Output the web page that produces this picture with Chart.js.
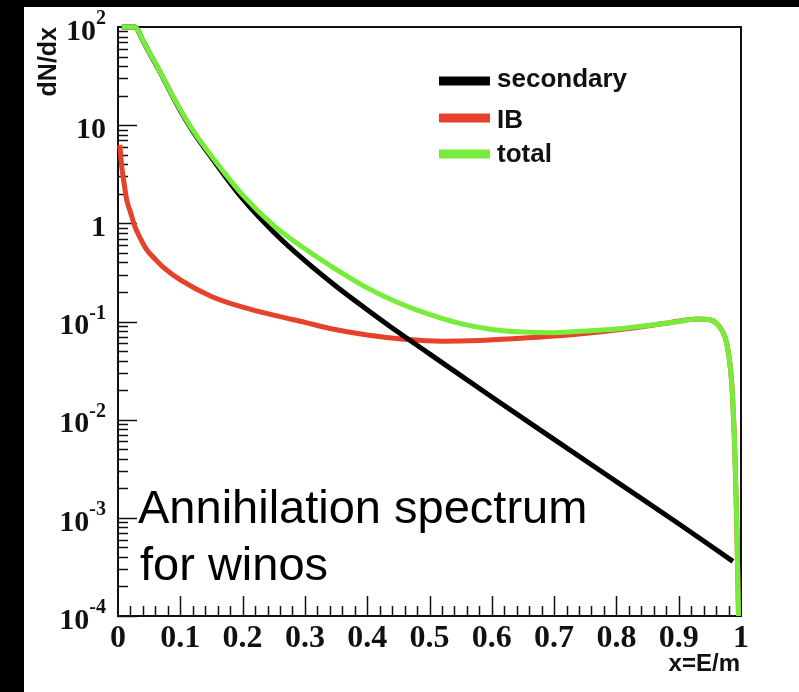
<!DOCTYPE html>
<html>
<head>
<meta charset="utf-8">
<script src="https://cdn.jsdelivr.net/npm/chart.js@4.4.0/dist/chart.umd.min.js"></script>
<style>
  html, body { margin: 0; padding: 0; background: #000; }
  #box { position: absolute; left: 24px; top: 7px; width: 775px; height: 685px; background: #fff; }
  canvas { display: block; }
</style>
</head>
<body>
<div id="box"><canvas id="spectrum" width="775" height="685"></canvas></div>
<script>
(function () {
  "use strict";

  // values (x = E/m, y = dN/dx)
  const xSecondary = [0.006, 0.027, 0.04, 0.051, 0.065, 0.079, 0.1, 0.12, 0.15, 0.2, 0.25, 0.3, 0.35, 0.4, 0.45, 0.5, 0.6, 0.7, 0.8, 0.9, 0.987];
  const ySecondary = [100, 100, 72.4, 53.7, 37.2, 25.1, 14.1, 8.71, 4.68, 1.78, 0.813, 0.417, 0.229, 0.132, 0.0776, 0.0468, 0.017, 0.0063, 0.00234, 0.00087, 0.00036];

  const xIB = [0.003, 0.006, 0.01, 0.014, 0.02, 0.027, 0.035, 0.046, 0.06, 0.072, 0.1, 0.15, 0.2, 0.26, 0.3, 0.34, 0.4, 0.46, 0.52, 0.58, 0.64, 0.7, 0.76, 0.82, 0.88, 0.93, 0.95, 0.96, 0.97, 0.977, 0.985, 0.99, 0.993, 0.996];
  const yIB = [6.3, 3.8, 2.5, 1.73, 1.3, 0.93, 0.72, 0.54, 0.43, 0.36, 0.265, 0.18, 0.14, 0.112, 0.098, 0.085, 0.073, 0.066, 0.063, 0.064, 0.067, 0.071, 0.077, 0.085, 0.096, 0.106, 0.104, 0.097, 0.08, 0.06, 0.024, 0.005, 0.001, 0.0001];

  const xTotal = [0.006, 0.027, 0.04, 0.051, 0.065, 0.079, 0.1, 0.12, 0.15, 0.2, 0.25, 0.3, 0.35, 0.4, 0.45, 0.5, 0.55, 0.6, 0.65, 0.7, 0.75, 0.8, 0.85, 0.9, 0.93, 0.95, 0.96, 0.97, 0.977, 0.985, 0.99, 0.993, 0.996];
  const yTotal = [100, 100, 73, 54, 37.6, 25.4, 14.4, 8.9, 4.86, 1.95, 0.95, 0.55, 0.34, 0.22, 0.155, 0.118, 0.095, 0.083, 0.078, 0.077, 0.08, 0.084, 0.091, 0.1, 0.106, 0.104, 0.097, 0.08, 0.06, 0.024, 0.005, 0.001, 0.0001];

  const seriesNames = ['secondary', 'IB', 'total'];
  const xTickLabels = ['0', '0.1', '0.2', '0.3', '0.4', '0.5', '0.6', '0.7', '0.8', '0.9', '1'];
  const yTickExponents = [2, 1, 0, -1, -2, -3, -4];
  const noteLines = ['Annihilation spectrum', 'for winos'];

  // Colors
  const c_black = '#000000';
  const c_red   = '#e5412b';
  const c_green = '#78ec3a';

  const toPoints = (xs, ys) => xs.map((x, i) => ({ x: x, y: ys[i] }));

  function lineSet(label, xs, ys, color) {
    return {
      label: label,
      data: toPoints(xs, ys),
      borderColor: color,
      backgroundColor: color,
      borderWidth: 5,
      pointRadius: 0,
      cubicInterpolationMode: 'monotone',
      borderJoinStyle: 'round',
      clip: false
    };
  }

  // ROOT style frame, inward ticks and texts
  const rootFrame = {
    id: 'rootFrame',
    beforeDatasetsDraw(chart) {
      const { ctx, chartArea: a, scales: { x, y } } = chart;
      ctx.save();
      ctx.strokeStyle = '#111';
      ctx.lineWidth = 2;
      ctx.strokeRect(a.left, a.top, a.right - a.left, a.bottom - a.top);
      ctx.lineWidth = 1.5;
      ctx.beginPath();
      for (let i = 1; i < 50; i++) {
        const px = Math.round(x.getPixelForValue(i / 50)) + 0.5;
        const len = i % 5 === 0 ? 20 : 10;
        ctx.moveTo(px, a.bottom);
        ctx.lineTo(px, a.bottom - len);
      }
      for (let e = -4; e <= 1; e++) {
        for (let m = 1; m <= 9; m++) {
          const py = Math.round(y.getPixelForValue(m * Math.pow(10, e))) + 0.5;
          const len = m === 1 ? 19 : 10;
          ctx.moveTo(a.left, py);
          ctx.lineTo(a.left + len, py);
        }
      }
      ctx.stroke();
      ctx.restore();
    },
    afterDraw(chart) {
      const { ctx, chartArea: a, scales: { x, y } } = chart;
      ctx.save();
      ctx.fillStyle = '#111';

      // x tick labels
      ctx.font = 'bold 32px "Liberation Serif"';
      ctx.textAlign = 'center';
      ctx.textBaseline = 'alphabetic';
      xTickLabels.forEach((t, i) => {
        ctx.fillText(t, x.getPixelForValue(i / 10), a.bottom + 31);
      });

      // y tick labels, 10^n
      const right = a.left - 12;
      yTickExponents.forEach(e => {
        const cy = y.getPixelForValue(Math.pow(10, e)) + 5;
        ctx.textBaseline = 'middle';
        ctx.textAlign = 'right';
        if (e === 0 || e === 1) {
          ctx.font = 'bold 30px "Liberation Serif"';
          ctx.fillText(e === 0 ? '1' : '10', right, cy);
        } else {
          const ex = String(e);
          ctx.font = 'bold 20px "Liberation Serif"';
          const w = ctx.measureText(ex).width;
          ctx.fillText(ex, right, cy - 13);
          ctx.font = 'bold 30px "Liberation Serif"';
          ctx.fillText('10', right - w, cy);
        }
      });

      // axis titles
      ctx.font = 'bold 25px "Liberation Sans"';
      ctx.textAlign = 'right';
      ctx.textBaseline = 'middle';
      ctx.save();
      ctx.translate(25, a.top);
      ctx.rotate(-Math.PI / 2);
      ctx.fillText('dN/dx', 0, 0);
      ctx.restore();
      ctx.font = 'bold 24px "Liberation Sans"';
      ctx.textBaseline = 'alphabetic';
      ctx.fillText('x=E/m', a.right - 1, a.bottom + 55);

      // legend
      const colors = [c_black, c_red, c_green];
      const lineY = [74, 111, 147];
      const textY = [80, 121, 155];
      ctx.font = 'bold 26px "Liberation Sans"';
      ctx.textAlign = 'left';
      seriesNames.forEach((name, i) => {
        ctx.fillStyle = colors[i];
        ctx.fillRect(415, lineY[i] - 4.5, 51, 9);
        ctx.fillStyle = '#111';
        ctx.fillText(name, 473, textY[i]);
      });

      // note
      ctx.fillStyle = '#000';
      ctx.font = '47px "Liberation Sans"';
      ctx.fillText(noteLines[0], 114, 516);
      ctx.fillText(noteLines[1], 116, 573);
      ctx.restore();
    }
  };

  const ctx = document.getElementById('spectrum').getContext('2d');
  new Chart(ctx, {
    type: 'line',
    data: {
      datasets: [
        lineSet('total', xTotal, yTotal, c_green),
        lineSet('secondary', xSecondary, ySecondary, c_black),
        lineSet('IB', xIB, yIB, c_red)
      ]
    },
    options: {
      responsive: false,
      animation: false,
      layout: {
        padding: { left: 0, right: 58, top: 20, bottom: 0 }
      },
      scales: {
        x: {
          type: 'linear',
          min: 0,
          max: 1,
          grid: { display: false },
          border: { display: false },
          ticks: { display: false },
          afterFit: s => { s.height = 76; }
        },
        y: {
          type: 'logarithmic',
          min: 0.0001,
          max: 100,
          grid: { display: false },
          border: { display: false },
          ticks: { display: false },
          afterFit: s => { s.width = 94; }
        }
      },
      plugins: {
        legend: { display: false },
        tooltip: { enabled: false }
      }
    },
    plugins: [rootFrame]
  });

})();
</script>
</body>
</html>
